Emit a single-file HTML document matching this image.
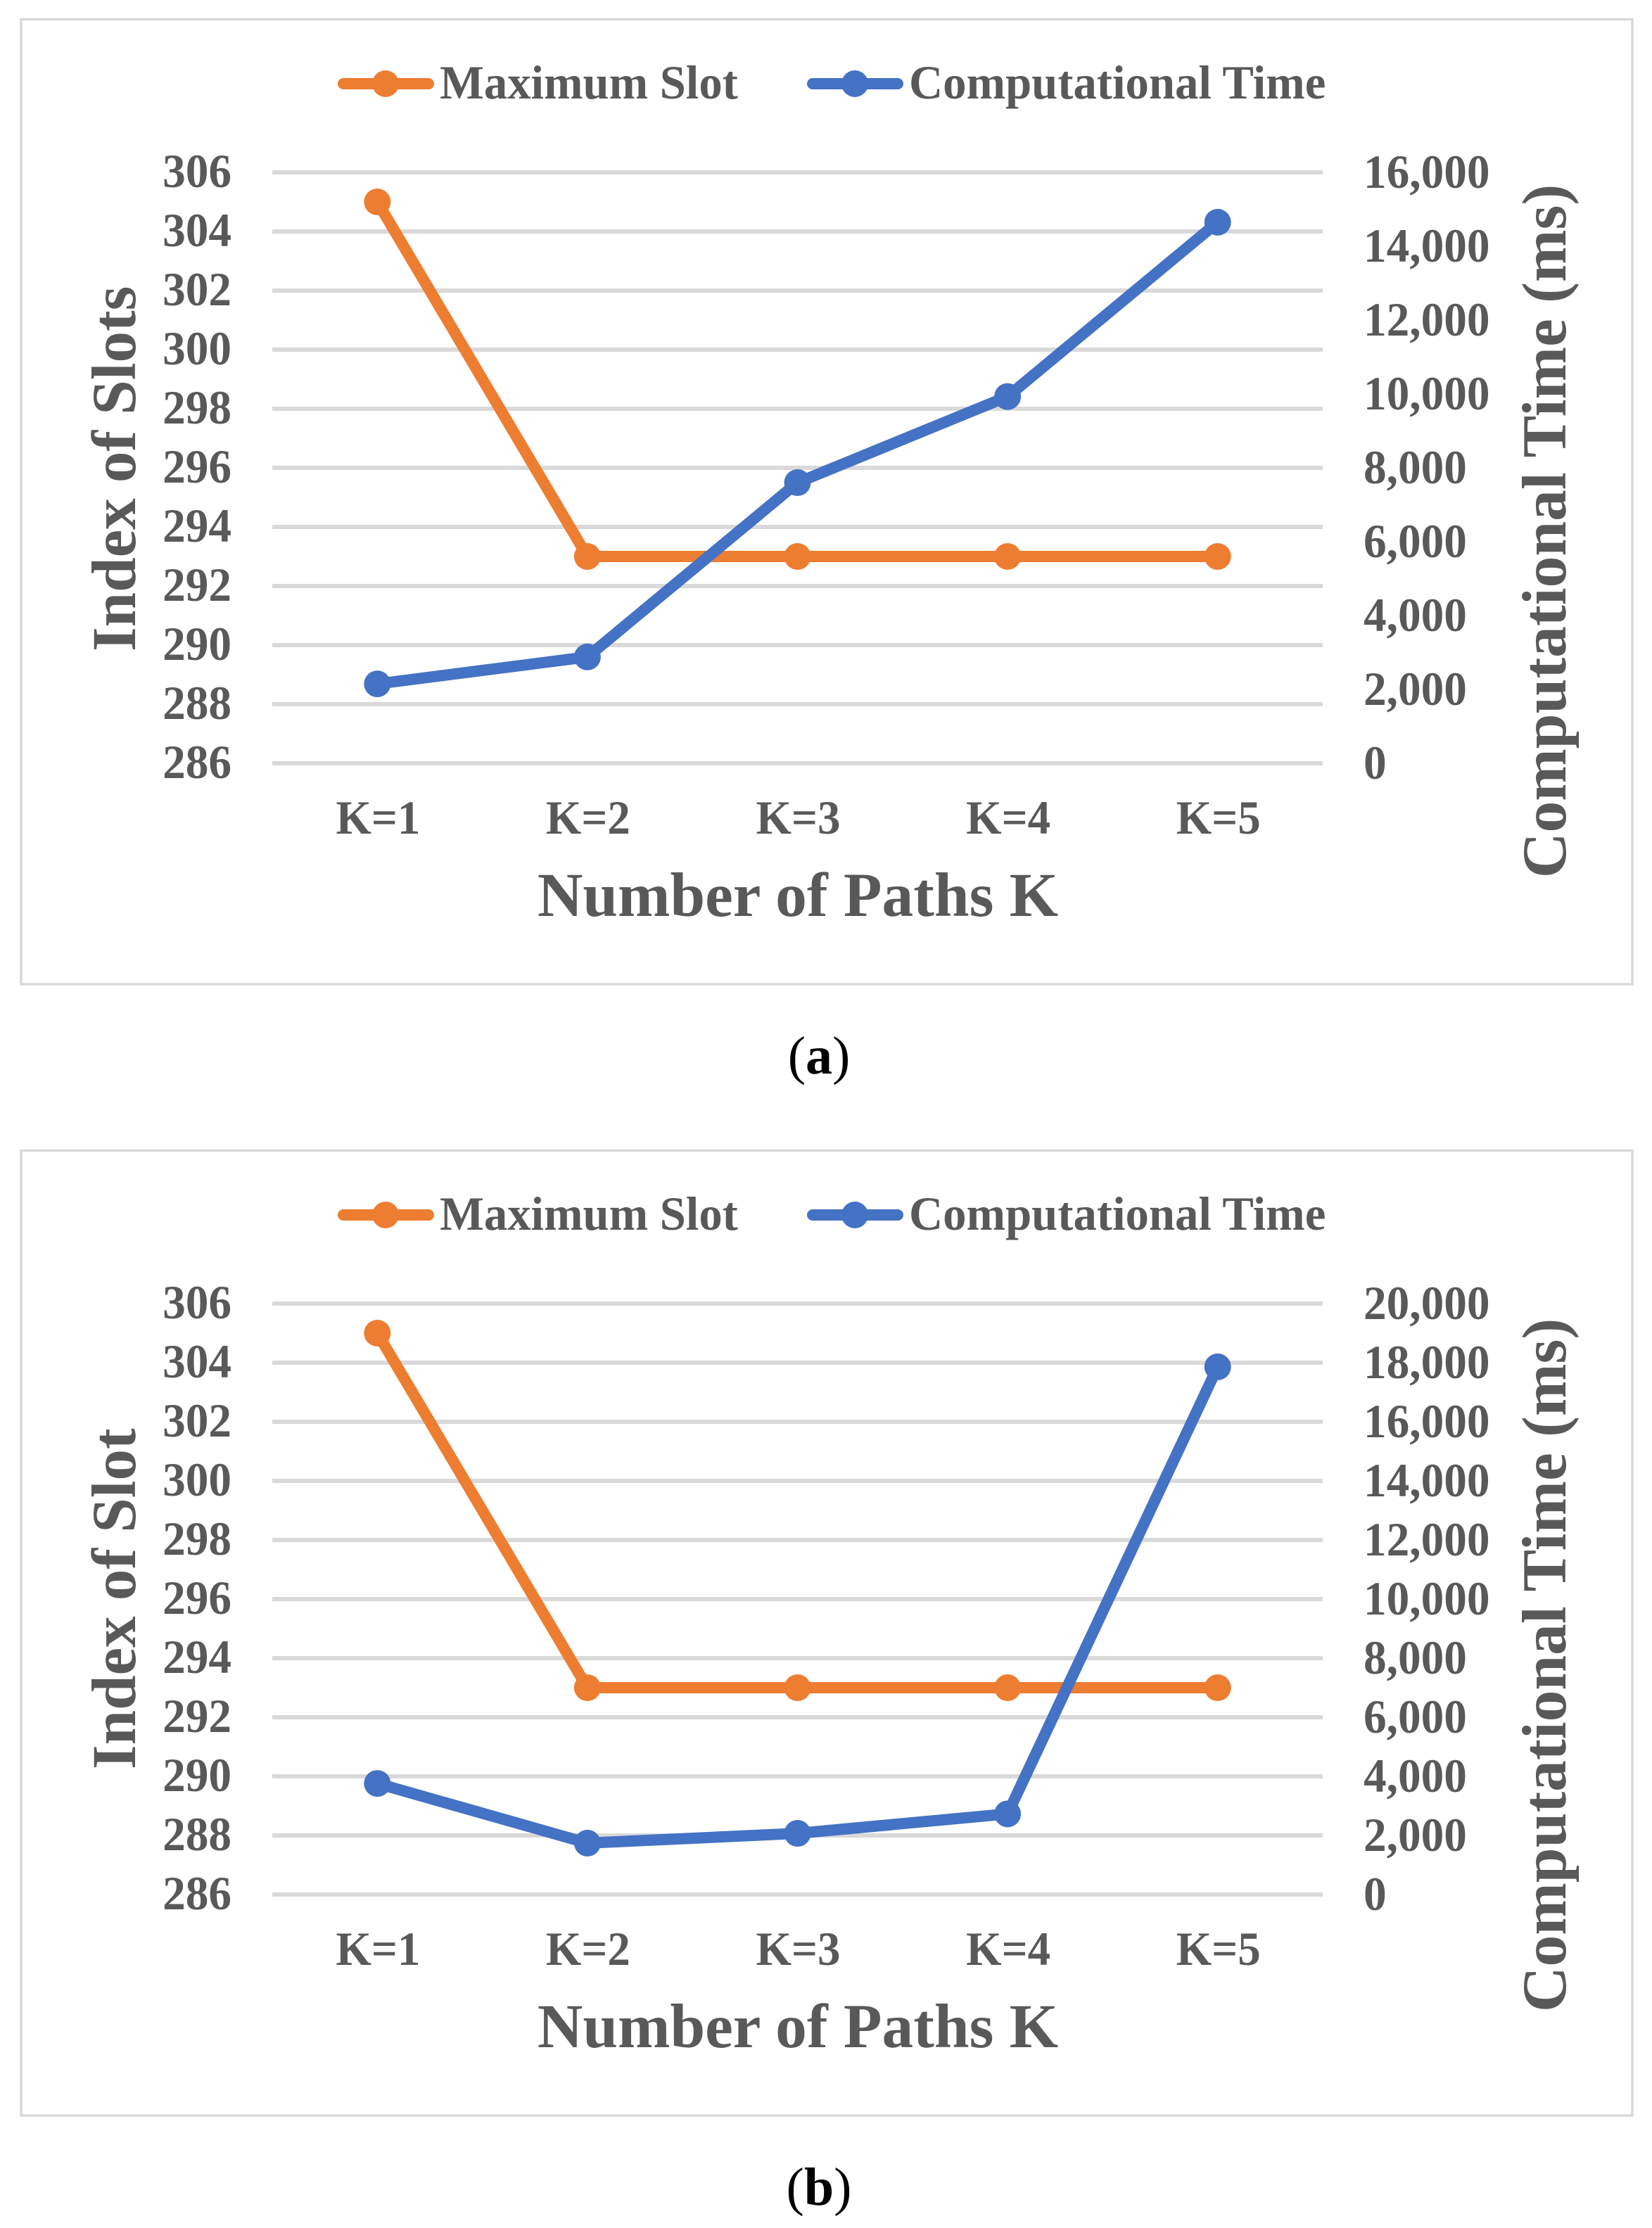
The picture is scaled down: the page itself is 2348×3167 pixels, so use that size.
<!DOCTYPE html>
<html lang="en">
<head>
<meta charset="utf-8">
<title>Maximum Slot and Computational Time vs Number of Paths K</title>
<style>
html,body{margin:0;padding:0;background:#fff;}
svg{display:block;}
text{font-family:"Liberation Serif",serif;font-weight:bold;fill:#595959;}
</style>
</head>
<body>
<svg id="figure" xmlns="http://www.w3.org/2000/svg" width="2348" height="3167" viewBox="0 0 2348 3167"></svg>
<script>
const categories = ["K=1", "K=2", "K=3", "K=4", "K=5"];
const slotTicks = [286, 288, 290, 292, 294, 296, 298, 300, 302, 304, 306];
const timeTicksA = [0, 2000, 4000, 6000, 8000, 10000, 12000, 14000, 16000];
const timeTicksB = [0, 2000, 4000, 6000, 8000, 10000, 12000, 14000, 16000, 18000, 20000];
const maxSlotA = [305, 293, 293, 293, 293];
const compTimeA = [2150, 2880, 7600, 9930, 14650];
const maxSlotB = [305, 293, 293, 293, 293];
const compTimeB = [3760, 1740, 2070, 2730, 17860];

const NS = "http://www.w3.org/2000/svg";
const ORANGE = "#ED7D31";
const BLUE = "#4472C4";
const GRID = "#D9D9D9";
const PLOT_LEFT = 387;
const PLOT_RIGHT = 1880;
const PLOT_TOP = 245;
const PLOT_BOTTOM = 1085;

const figure = document.getElementById("figure");

function make(parent, tag, props) {
  const node = document.createElementNS(NS, tag);
  for (const key in props) node.setAttribute(key, props[key]);
  parent.appendChild(node);
  return node;
}

function label(parent, content, x, y, size, anchor, sx, rotate) {
  const node = make(parent, "text", {
    "font-size": size,
    "text-anchor": anchor,
    transform: "translate(" + x + "," + y + ")" + (rotate ? " rotate(" + rotate + ")" : "") + " scale(" + sx + ",1)"
  });
  node.textContent = content;
  return node;
}

function xScale(i) {
  const band = (PLOT_RIGHT - PLOT_LEFT) / categories.length;
  return PLOT_LEFT + band * (i + 0.5);
}

function yScale(ticks) {
  const lo = ticks[0];
  const hi = ticks[ticks.length - 1];
  return function (v) {
    return PLOT_BOTTOM - (v - lo) / (hi - lo) * (PLOT_BOTTOM - PLOT_TOP);
  };
}

function drawSeries(parent, values, scale, color, name) {
  const g = make(parent, "g", {});
  
  
  const pts = values.map(function (v, i) { return xScale(i) + "," + scale(v); }).join(" ");
  const line = make(g, "polyline", {
    points: pts, fill: "none", stroke: color, "stroke-width": 16, "stroke-linejoin": "round"
  });
  
  
  values.forEach(function (v, i) {
    const dot = make(g, "circle", { cx: xScale(i), cy: scale(v), r: 19, fill: color });
    
    
  });
}

function drawLegendEntry(parent, x1, x2, cx, color, text, textX, sx, name) {
  const g = make(parent, "g", {});
  
  
  make(g, "line", { x1: x1 + 8, x2: x2 - 8, y1: 119, y2: 119, stroke: color, "stroke-width": 16, "stroke-linecap": "round" });
  make(g, "circle", { cx: cx, cy: 119, r: 19, fill: color });
  label(g, text, textX, 140, 68, "start", sx);
}

function drawPanel(id, offsetY, slots, times, timeTicks, leftTitle, leftTitleY, rightTitleY, caption) {
  const panel = make(figure, "g", { transform: "translate(0," + offsetY + ")" });
  
  

  const frame = make(panel, "rect", { x: 30, y: 27.5, width: 2290, height: 1371.5, fill: "#fff", stroke: GRID, "stroke-width": 3.5 });
  
  

  const yLeft = yScale(slotTicks);
  const yRight = yScale(timeTicks);

  const grid = make(panel, "g", {});
  
  
  slotTicks.forEach(function (t) {
    make(grid, "line", { x1: PLOT_LEFT, x2: PLOT_RIGHT, y1: yLeft(t), y2: yLeft(t), stroke: GRID, "stroke-width": 6 });
  });

  const leftAxis = make(panel, "g", {});
  
  
  slotTicks.forEach(function (t) {
    label(leftAxis, String(t), 329, yLeft(t) + 21, 68, "end", 0.96);
  });

  const rightAxis = make(panel, "g", {});
  
  
  timeTicks.forEach(function (t) {
    label(rightAxis, t.toLocaleString("en-US"), 1938, yRight(t) + 22, 68, "start", 0.96);
  });

  const xAxis = make(panel, "g", {});
  
  
  categories.forEach(function (c, i) {
    label(xAxis, c, xScale(i) + 1, 1185, 68, "middle", 0.955);
  });

  const xTitle = label(panel, "Number of Paths K", 1134, 1302, 89, "middle", 1.004);
  
  

  const yTitle = label(panel, leftTitle, 192, leftTitleY, 89, "start", 1, -90);
  
  

  const y2Title = label(panel, "Computational Time (ms)", 2225, rightTitleY, 89, "middle", 1.006, -90);
  
  

  const legend = make(panel, "g", {});
  
  
  drawLegendEntry(legend, 480, 617, 548, ORANGE, "Maximum Slot", 625, 0.98, "legend-entry-maximum-slot");
  drawLegendEntry(legend, 1147, 1284, 1215, BLUE, "Computational Time", 1292, 0.981, "legend-entry-computational-time");

  drawSeries(panel, slots, yLeft, ORANGE, "maximum-slot");
  drawSeries(panel, times, yRight, BLUE, "computational-time");

  const cap = make(panel, "text", { x: 1164, y: 1526, "font-size": 76, "text-anchor": "middle" });
  
  
  cap.style.fill = "#000";
  cap.style.fontWeight = "normal";
  const open = make(cap, "tspan", {});
  open.textContent = "(";
  const letter = make(cap, "tspan", {});
  letter.style.fontWeight = "bold";
  letter.textContent = caption;
  const close = make(cap, "tspan", {});
  close.textContent = ")";
}

drawPanel("a", 0, maxSlotA, compTimeA, timeTicksA, "Index of Slots", 926, 755, "a");
drawPanel("b", 1608, maxSlotB, compTimeB, timeTicksB, "Index of Slot", 907, 759, "b");
</script>
</body>
</html>
